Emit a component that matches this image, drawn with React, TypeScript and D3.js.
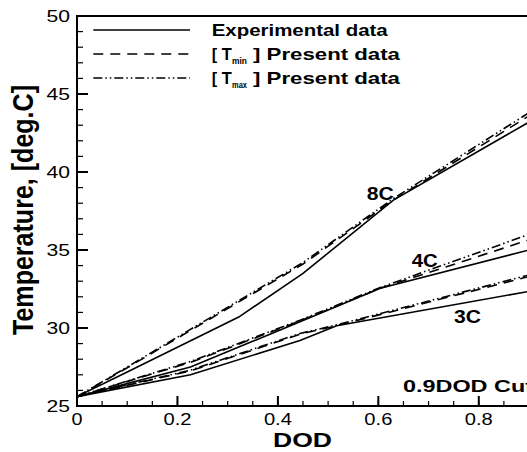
import React from "react";
import * as d3 from "d3";

// ---- data ----
const dod8C = [0, 0.1, 0.322, 0.45, 0.63, 0.9];
const exp8C = [25.6, 27.18, 30.7, 33.5, 38.2, 43.2];
const dodPred8C = [0, 0.1, 0.45, 0.63, 0.9];
const tmax8C = [25.6, 27.5, 34.2, 38.3, 43.8];
const tmin8C = [25.6, 27.45, 34.1, 38.2, 43.6];

const dod4C = [0, 0.226, 0.444, 0.604, 0.9];
const exp4C = [25.6, 27.5, 30.4, 32.55, 35.0];
const tmax4C = [25.6, 27.85, 30.5, 32.6, 36.0];
const tmin4C = [25.6, 27.8, 30.45, 32.55, 35.65];

const dod3C = [0, 0.226, 0.444, 0.517, 0.9];
const exp3C = [25.6, 27.0, 29.2, 30.15, 32.35];
const tmax3C = [25.6, 27.3, 29.65, 30.2, 33.4];
const tmin3C = [25.6, 27.25, 29.6, 30.15, 33.3];

const xTicks = [0, 0.2, 0.4, 0.6, 0.8];
const yTicks = [25, 30, 35, 40, 45, 50];
const rateLabels = ["8C", "4C", "3C"];
const legendLabels = ["Experimental data", "] Present data", "] Present data"];
const legendSubs = ["min", "max"];

const FONT = "'Liberation Sans', Arial, sans-serif";

function SText({ x, y, size, len, weight = "normal", anchor = "start", rotate = 0, children }: any) {
  return (
    <text
      transform={`translate(${x},${y}) rotate(${rotate})`}
      fontSize={size}
      fontWeight={weight}
      textAnchor={anchor}
      fontFamily={FONT}
      textLength={len}
      lengthAdjust="spacingAndGlyphs"
      fill="#000"
    >
      {children}
    </text>
  );
}

export default function App() {
  const W = 527, H = 452;
  const x = d3.scaleLinear().domain([0, 0.9]).range([77, 529]);
  const y = d3.scaleLinear().domain([25, 50]).range([406, 16]);
  const line = d3.line<[number, number]>().x(d => x(d[0])).y(d => y(d[1]));
  const mk = (xs: number[], ys: number[]) => line(xs.map((v, i) => [v, ys[i]] as [number, number])) || "";

  const DASH = "10 7";
  const DDOT = "9 3 1.5 3 1.5 3";
  const series = [
    { d: mk(dod8C, exp8C), dash: undefined },
    { d: mk(dodPred8C, tmin8C), dash: DASH },
    { d: mk(dodPred8C, tmax8C), dash: DDOT },
    { d: mk(dod4C, exp4C), dash: undefined },
    { d: mk(dod4C, tmin4C), dash: DASH },
    { d: mk(dod4C, tmax4C), dash: DDOT },
    { d: mk(dod3C, exp3C), dash: undefined },
    { d: mk(dod3C, tmin3C), dash: DASH },
    { d: mk(dod3C, tmax3C), dash: DDOT },
  ];

  const xMinor = d3.range(0, 0.9001, 0.05);
  const yMinor = d3.range(25, 50.001, 1);

  const legendY = [30, 54, 78];
  const legendDash = [undefined, DASH, DDOT];

  return (
    <svg width={W} height={H} style={{ position: "fixed", left: 0, top: 0, background: "#fff" }}>
      <rect width={W} height={H} fill="#fff" />
      <defs>
        <clipPath id="plot">
          <rect x={77} y={16} width={452} height={390} />
        </clipPath>
      </defs>
      <g clipPath="url(#plot)" fill="none" stroke="#000" strokeWidth={1.6}>
        {series.map((s, i) => (
          <path key={i} d={s.d} strokeDasharray={s.dash} />
        ))}
      </g>
      {/* frame */}
      <g stroke="#000" strokeWidth={2} fill="none">
        <line x1={77} x2={77} y1={15} y2={407} />
        <line x1={76} x2={530} y1={16} y2={16} />
        <line x1={76} x2={530} y1={406} y2={406} />
        <line x1={529} x2={529} y1={16} y2={406} />
      </g>
      {/* ticks */}
      <g stroke="#000" strokeWidth={1.2}>
        {xMinor.map((v, i) => (
          <line key={"xm" + i} x1={x(v)} x2={x(v)} y1={406} y2={401} />
        ))}
        {xTicks.map((v, i) => (
          <line key={"xM" + i} x1={x(v)} x2={x(v)} y1={406} y2={396} strokeWidth={2} />
        ))}
        {yMinor.map((v, i) => (
          <line key={"ym" + i} x1={77} x2={83} y1={y(v)} y2={y(v)} />
        ))}
        {yTicks.map((v, i) => (
          <line key={"yM" + i} x1={77} x2={88} y1={y(v)} y2={y(v)} strokeWidth={2} />
        ))}
      </g>
      {/* tick labels */}
      {xTicks.map((v, i) => (
        <SText key={"xl" + i} x={x(v)} y={425} size={17} len={v === 0 ? 11 : 28} anchor="middle">
          {v === 0 ? "0" : d3.format(".1f")(v)}
        </SText>
      ))}
      {yTicks.map((v, i) => (
        <SText key={"yl" + i} x={70} y={y(v) + 6.3} size={17} len={23.5} anchor="end">
          {String(v)}
        </SText>
      ))}
      {/* axis titles */}
      <SText x={302.5} y={446.7} size={21} len={59} weight="bold" anchor="middle">DOD</SText>
      <SText x={33} y={210} size={30} len={250} weight="bold" anchor="middle" rotate={-90}>
        Temperature, [deg.C]
      </SText>
      {/* annotations */}
      <SText x={366.7} y={200} size={18} len={27} weight="bold">{rateLabels[0]}</SText>
      <SText x={411.7} y={267.3} size={18} len={26} weight="bold">{rateLabels[1]}</SText>
      <SText x={454} y={323.3} size={18} len={27} weight="bold">{rateLabels[2]}</SText>
      <SText x={403} y={391.7} size={16.5} len={130} weight="bold">0.9DOD Cut</SText>
      {/* legend */}
      <g stroke="#000" strokeWidth={1.6}>
        {legendY.map((ly, i) => (
          <line key={"lg" + i} x1={93.3} x2={190} y1={ly} y2={ly} strokeDasharray={legendDash[i]} />
        ))}
      </g>
      <SText x={211.7} y={35.8} size={17.3} len={176} weight="bold">{legendLabels[0]}</SText>
      {[0, 1].map(i => (
        <g key={"lr" + i}>
          <SText x={211.7} y={59.8 + i * 24} size={17.3} len={20} weight="bold">{"[ T"}</SText>
          <SText x={232} y={63.5 + i * 24} size={9} len={15} weight="bold">{legendSubs[i]}</SText>
          <SText x={253} y={59.8 + i * 24} size={17.3} len={147} weight="bold">{legendLabels[i + 1]}</SText>
        </g>
      ))}
    </svg>
  );
}
